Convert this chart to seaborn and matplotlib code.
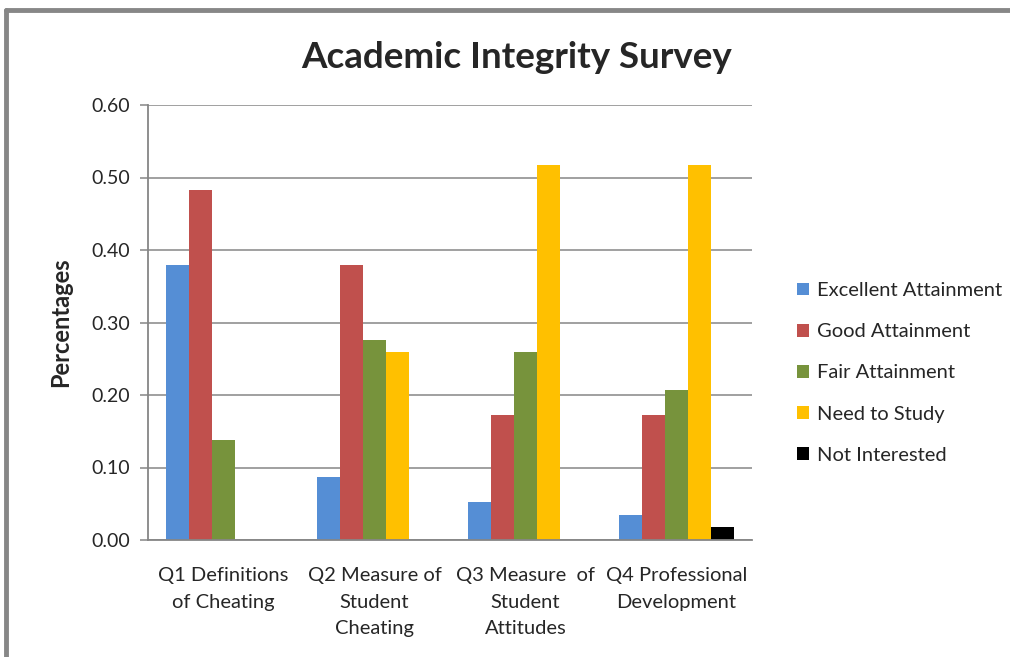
import pandas as pd
import matplotlib.pyplot as plt
import seaborn as sns
from matplotlib.ticker import FormatStrFormatter
from matplotlib.lines import Line2D

# Data
questions = ['Q1 Definitions\nof Cheating',
             'Q2 Measure of\nStudent\nCheating',
             'Q3 Measure  of\nStudent\nAttitudes',
             'Q4 Professional\nDevelopment']
levels = ['Excellent Attainment', 'Good Attainment', 'Fair Attainment',
          'Need to Study', 'Not Interested']
excellent = [0.379, 0.087, 0.052, 0.034]
good = [0.483, 0.379, 0.172, 0.172]
fair = [0.138, 0.276, 0.259, 0.207]
need_study = [0.0, 0.259, 0.517, 0.517]
not_interested = [0.0, 0.0, 0.0, 0.018]
colors = ['#558ED5', '#C0504D', '#77933C', '#FFC000', '#000000']

series = [excellent, good, fair, need_study, not_interested]
rows = []
for lvl, vals in zip(levels, series):
    for q, v in zip(questions, vals):
        rows.append({'Question': q, 'Level': lvl, 'Value': v})
df = pd.DataFrame(rows)

sns.set_style('white')
plt.rcParams['font.family'] = ['Lato', 'DejaVu Sans']

fig = plt.figure(figsize=(10.1, 6.57), dpi=100)
ax = fig.add_axes([148 / 1010, 1 - 540 / 657, 604 / 1010, 435 / 657])

sns.barplot(data=df, x='Question', y='Value', hue='Level', order=questions,
            hue_order=levels, palette=colors, width=0.76, gap=0,
            linewidth=0, saturation=1, ax=ax, legend=True)

ax.set_ylim(0, 0.6)
ax.set_yticks([0, 0.1, 0.2, 0.3, 0.4, 0.5, 0.6])
ax.yaxis.set_major_formatter(FormatStrFormatter('%.2f'))
ax.set_xlim(-0.5, 3.5)
ax.grid(axis='y', color='#868686', linewidth=1.1)
ax.set_axisbelow(True)
for s in ['top', 'right']:
    ax.spines[s].set_visible(False)
for s in ['left', 'bottom']:
    ax.spines[s].set_color('#868686')
    ax.spines[s].set_linewidth(1.3)
ax.tick_params(axis='y', left=True, length=6, color='#868686', width=1.1,
               labelsize=14, pad=7)
ax.tick_params(axis='x', bottom=False, labelsize=14.5, pad=16)
for lab in ax.get_xticklabels():
    lab.set_linespacing(1.68)
    lab.set_verticalalignment('top')

ax.set_xlabel('')
ax.set_ylabel('Percentages', fontsize=17, fontweight='bold', labelpad=14)

fig.text(517 / 1010, 1 - 57 / 657, 'Academic Integrity Survey',
         fontsize=26.5, fontweight='bold', ha='center', va='center')

handles, labels = ax.get_legend_handles_labels()
ax.legend_.remove()
fig.legend(handles, labels, loc='center left',
           bbox_to_anchor=(779 / 1010, 1 - 373 / 657), frameon=False,
           fontsize=14.5, handlelength=0.6, handleheight=0.6,
           handletextpad=0.4, labelspacing=1.2)

# outer chart border (top and left visible)
fig.add_artist(Line2D([6 / 1010, 6 / 1010], [0, 1 - 10 / 657],
                      transform=fig.transFigure, color='#878787', linewidth=3.5))
fig.add_artist(Line2D([6 / 1010, 1], [1 - 10 / 657, 1 - 10 / 657],
                      transform=fig.transFigure, color='#878787', linewidth=3.5))

fig.savefig('out.png', dpi=100)
